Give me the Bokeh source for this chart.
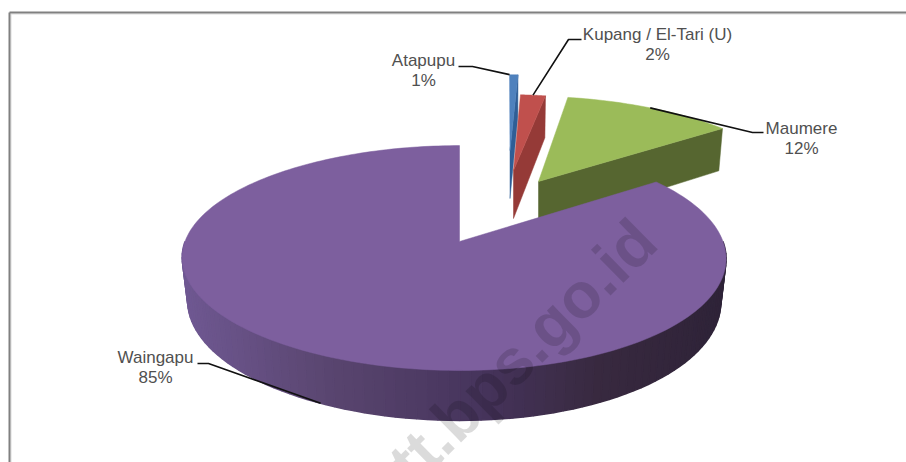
import numpy as np
from bokeh.plotting import figure
from bokeh.embed import file_html
from bokeh.resources import INLINE
from bokeh.core.properties import value

categories = ["Atapupu", "Kupang / El-Tari (U)", "Maumere", "Waingapu"]
shares = [1, 2, 12, 85]
pct_labels = ["1%", "2%", "12%", "85%"]

top_colors = ["#4F81BD", "#C0504D", "#9BBB59", "#7D5F9E"]
side_colors = ["#2F5E96", "#953A37", "#566630", None]
side_stops = [(181, "#6F5892"), (330, "#59456F"), (480, "#46345C"), (600, "#38293F"), (726, "#2E2338")]

# layout of each exploded slice: apex, horizontal scale, lean, vertical scale, thickness
apex = [(509.5, 150), (513, 170), (538, 181), (459, 241)]
scale_x = [154, 229, 258, 269]
lean = [-0.5, -6.4, -15, 0]
scale_y = [87, 87, 98, 110]
depth = [48, 48, 46, 42.6]
bulge = [0, 0, 0, 5.5]
K = 0.147
LOWER_SHRINK = 0.98

label_pos = [(423, 60), (657, 34), (801, 128), (155, 357)]
label_elbow = [((458, 66), (472, 66)), ((581, 39), (568, 39)), ((763, 132), (752, 132)), ((197, 363), (208, 363))]
anchor_low = [False, False, False, True]


def project(i, deg, lower=False):
    t = np.radians(np.asarray(deg, dtype=float))
    u, v = np.sin(t), np.cos(t)
    w = 1 + K * v
    x = (scale_x[i] * u + lean[i] * v) / w - bulge[i] * u * u
    y = apex[i][1] - scale_y[i] * v / w
    if lower:
        y = y + depth[i] / w
        x = x * LOWER_SHRINK
    return apex[i][0] + x, y


def hexmix(a, b, f):
    ca = [int(a[j:j + 2], 16) for j in (1, 3, 5)]
    cb = [int(b[j:j + 2], 16) for j in (1, 3, 5)]
    return "#%02x%02x%02x" % tuple(int(round(p + (q - p) * f)) for p, q in zip(ca, cb))


def side_color(x):
    for (x0, c0), (x1, c1) in zip(side_stops, side_stops[1:]):
        if x <= x1:
            return hexmix(c0, c1, max(0, (x - x0) / (x1 - x0)))
    return side_stops[-1][1]


p = figure(width=906, height=462, x_range=(0, 906), y_range=(462, 0),
           output_backend="svg", toolbar_location=None, min_border=0)
p.axis.visible = False
p.grid.visible = False
p.outline_line_color = None
p.background_fill_color = "white"
p.border_fill_color = "white"

# frame, as in the screenshot
p.line([10.5, 10.5], [462, 13.5], line_color="#dcdcdc", line_width=1)
p.line([10.5, 906], [13.5, 13.5], line_color="#dcdcdc", line_width=1)
p.line([9, 9], [462, 12], line_color="#808080", line_width=2)
p.line([9, 906], [12, 12], line_color="#808080", line_width=2)

cum = np.cumsum([0] + shares) * 3.6

# small exploded slices
for i in range(3):
    a0, a1 = cum[i], cum[i + 1]
    arc = np.linspace(a0, a1, 40)
    ax, ay = apex[i]
    # side wall along the clockwise-end radial edge
    ex0, ey0 = project(i, a1)
    ex1, ey1 = project(i, a1, True)
    low_y = ay + depth[i]
    p.patch([ax, float(ex0), float(ex1), ax], [ay, float(ey0), float(ey1), low_y],
            fill_color=side_colors[i], line_color=side_colors[i], line_width=0.5)
    x, y = project(i, arc)
    p.patch([ax] + list(x), [ay] + list(y), fill_color=top_colors[i],
            line_color=top_colors[i], line_width=0.5)

# big slice: rim, shaded strip by strip
i = 3
a0, a1 = cum[3], cum[4]
rim = np.linspace(90, 270, 91)
for d0, d1 in zip(rim[:-1], rim[1:]):
    tx, ty = project(i, [d0, d1])
    bx, by = project(i, [d1, d0], True)
    c = side_color(float(tx.mean()))
    p.patch(list(tx) + list(bx), list(ty) + list(by), fill_color=c, line_color=c, line_width=1.5)
arc = np.linspace(a0, a1, 240)
x, y = project(i, arc)
p.patch([apex[i][0]] + list(x), [apex[i][1]] + list(y), fill_color=top_colors[3],
        line_color=top_colors[3], line_width=0.5)

# watermark
p.text([645], [230], text=["ntt.bps.go.id"], angle=44.5, angle_units="deg",
       text_font=value("Liberation Sans"), text_font_style="bold", text_font_size="64px",
       text_color="#000000", text_alpha=0.14, text_align="right", text_baseline="alphabetic")

# leader lines and labels, anchored on each slice's mid angle
for i, name in enumerate(categories):
    mid = (cum[i] + cum[i + 1]) / 2
    if i == 0:
        mid = cum[i]
    ex, ey = project(i, mid, anchor_low[i])
    e0, e1 = label_elbow[i]
    p.line([e0[0], e1[0], float(ex)], [e0[1], e1[1], float(ey)], line_color="#111111", line_width=1.6)
    lx, ly = label_pos[i]
    p.text([lx], [ly], text=[name], text_font=value("Liberation Sans"), text_font_size="17px",
           text_color="#505050", text_align="center", text_baseline="middle")
    p.text([lx], [ly + 19.5], text=[pct_labels[i]], text_font=value("Liberation Sans"), text_font_size="17px",
           text_color="#505050", text_align="center", text_baseline="middle")

open("out.html", "w").write(file_html(p, INLINE))
